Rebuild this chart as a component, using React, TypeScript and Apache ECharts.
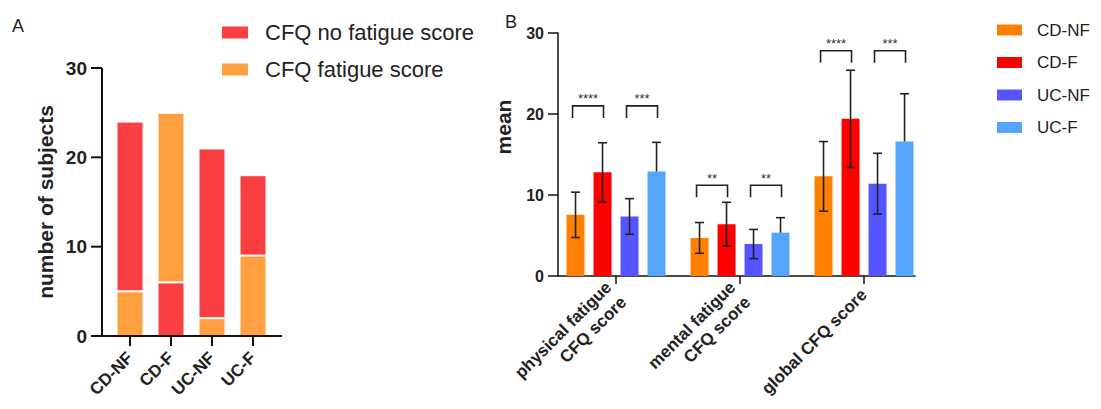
import React, { useEffect, useRef } from 'react';
import * as echarts from 'echarts';

// ---------- Panel A data ----------
const groupsA = ['CD-NF', 'CD-F', 'UC-NF', 'UC-F'];
const fatigueScore = [5, 19, 2, 9];
const noFatigueScore = [19, 6, 19, 9];
const fatigueAtBottom = [true, false, true, true];
const seriesNamesA = ['CFQ no fatigue score', 'CFQ fatigue score'];
const yTicksA = [0, 10, 20, 30];

// ---------- Panel B data ----------
const categoriesB = ['physical fatigue\nCFQ score', 'mental fatigue\nCFQ score', 'global CFQ score'];
const groupsB = ['CD-NF', 'CD-F', 'UC-NF', 'UC-F'];
const meanCDNF = [7.55, 4.7, 12.3];
const sdCDNF = [2.8, 1.9, 4.3];
const meanCDF = [12.8, 6.4, 19.4];
const sdCDF = [3.65, 2.7, 6.0];
const meanUCNF = [7.35, 3.95, 11.4];
const sdUCNF = [2.2, 1.8, 3.75];
const meanUCF = [12.9, 5.35, 16.6];
const sdUCF = [3.6, 1.85, 5.9];
const errorBelow = [true, true, true, false];
const sigHeight = [21, 11.2, 27.8];
const sigPairs = [[0, 1], [2, 3]];
const sigStars = [['****', '***'], ['**', '**'], ['****', '***']];

// ---------- styles ----------
const FONT = '"Liberation Sans", Arial, Helvetica, sans-serif';
const TEXT = '#222';
const AXIS = '#111';
const RED_A = '#F93F42';
const ORANGE_A = '#FF9F3F';
const COLORS_B = ['#FF8000', '#FF0000', '#5555FF', '#55A5FF'];
const BAR_W_B = 18;
const GAP_B = 9;
const CAP = 4.5;
const LEG = 12;
// axis-line overhang beyond the outer category centres (in category-band units)
const X_RANGE_A = [-0.683, 3.707];
const X_RANGE_B = [-0.468, 2.411];

const offsetB = (i: number) => (i - 1.5) * (BAR_W_B + GAP_B);

const meansB = [meanCDNF, meanCDF, meanUCNF, meanUCF];
const sdsB = [sdCDNF, sdCDF, sdUCNF, sdUCF];

function buildOption(): any {
  const idxB = categoriesB.map((_, i) => i);

  const barA = (name: string, color: string, values: (number | string)[]) => ({
    type: 'bar',
    name,
    xAxisIndex: 0,
    yAxisIndex: 0,
    stack: 'A',
    barWidth: 27,
    data: values,
    itemStyle: { color, borderColor: '#fff', borderWidth: 1 },
  });

  const seriesA = [
    barA(seriesNamesA[1], ORANGE_A, fatigueScore.map((v, i) => (fatigueAtBottom[i] ? v : '-'))),
    barA(seriesNamesA[0], RED_A, noFatigueScore.map((v, i) => (fatigueAtBottom[i] ? '-' : v))),
    barA(seriesNamesA[0], RED_A, noFatigueScore.map((v, i) => (fatigueAtBottom[i] ? v : '-'))),
    barA(seriesNamesA[1], ORANGE_A, fatigueScore.map((v, i) => (fatigueAtBottom[i] ? '-' : v))),
  ];

  // Panel A axis frame (lines + ticks), drawn from the grid's own scales
  const frameA = {
    type: 'custom',
    xAxisIndex: 0,
    yAxisIndex: 0,
    z: 9,
    silent: true,
    data: [[0, 0]],
    renderItem: (params: any, api: any) => {
      const p0 = api.coord([0, 0]);
      const p1 = api.coord([1, 0]);
      const band = p1[0] - p0[0];
      const xl = p0[0] + X_RANGE_A[0] * band;
      const xr = p0[0] + X_RANGE_A[1] * band;
      const yTop = api.coord([0, yTicksA[yTicksA.length - 1]])[1];
      const yBot = p0[1];
      const st = { stroke: AXIS, lineWidth: 2 };
      const children: any[] = [
        { type: 'line', shape: { x1: xl, y1: yTop, x2: xl, y2: yBot }, style: st },
        { type: 'line', shape: { x1: xl - 11, y1: yBot, x2: xr, y2: yBot }, style: st },
      ];
      yTicksA.forEach((t) => {
        const y = api.coord([0, t])[1];
        children.push({ type: 'line', shape: { x1: xl - 11, y1: y, x2: xl, y2: y }, style: st });
      });
      groupsA.forEach((_, i) => {
        const x = api.coord([i, 0])[0];
        children.push({ type: 'line', shape: { x1: x, y1: yBot, x2: x, y2: yBot + 10 }, style: st });
      });
      return { type: 'group', children };
    },
  };

  const seriesBBars = groupsB.map((g, i) => ({
    type: 'bar',
    name: g,
    xAxisIndex: 1,
    yAxisIndex: 1,
    barWidth: BAR_W_B,
    barGap: '50%',
    data: meansB[i].map((m, c) => [c, m]),
    itemStyle: { color: COLORS_B[i] },
  }));

  const seriesBErr = groupsB.map((g, i) => ({
    type: 'custom',
    xAxisIndex: 1,
    yAxisIndex: 1,
    z: 10,
    encode: { x: 0, y: 1 },
    data: categoriesB.map((_, c) => [c, meansB[i][c], sdsB[i][c], errorBelow[i] ? 1 : 0]),
    renderItem: (params: any, api: any) => {
      const c = api.value(0);
      const m = api.value(1);
      const s = api.value(2);
      const below = api.value(3);
      const pTop = api.coord([c, m + s]);
      const pBot = api.coord([c, below ? m - s : m]);
      const x = pTop[0] + offsetB(i);
      const st = { stroke: '#222', lineWidth: 1.6 };
      const children: any[] = [
        { type: 'line', shape: { x1: x, y1: pTop[1], x2: x, y2: pBot[1] }, style: st },
        { type: 'line', shape: { x1: x - CAP, y1: pTop[1], x2: x + CAP, y2: pTop[1] }, style: st },
      ];
      if (below) {
        children.push({ type: 'line', shape: { x1: x - CAP, y1: pBot[1], x2: x + CAP, y2: pBot[1] }, style: st });
      }
      return { type: 'group', children };
    },
  }));

  const sigData: number[][] = [];
  const sigText: string[] = [];
  categoriesB.forEach((_, c) => {
    sigPairs.forEach((p, k) => {
      sigData.push([c, p[0], p[1], sigHeight[c]]);
      sigText.push(sigStars[c][k]);
    });
  });

  const seriesSig = {
    type: 'custom',
    xAxisIndex: 1,
    yAxisIndex: 1,
    z: 10,
    encode: { x: 0, y: 3 },
    data: sigData,
    renderItem: (params: any, api: any) => {
      const c = api.value(0);
      const a = api.value(1);
      const b = api.value(2);
      const h = api.value(3);
      const p = api.coord([c, h]);
      const xl = p[0] + offsetB(a) - 3;
      const xr = p[0] + offsetB(b) + 1;
      const y = p[1];
      return {
        type: 'group',
        children: [
          {
            type: 'polyline',
            shape: { points: [[xl, y + LEG], [xl, y], [xr, y], [xr, y + LEG]] },
            style: { stroke: '#222', lineWidth: 1.6, fill: 'none' },
          },
          {
            type: 'text',
            style: {
              text: sigText[params.dataIndex],
              x: (xl + xr) / 2,
              y: y - 7,
              align: 'center',
              verticalAlign: 'middle',
              fill: '#333',
              font: `13px ${FONT}`,
            },
          },
        ],
      };
    },
  };

  const boldText = (size: number) => ({
    fontFamily: FONT,
    fontWeight: 'bold',
    fontSize: size,
    color: TEXT,
  });

  return {
    animation: false,
    textStyle: { fontFamily: FONT },
    grid: [
      { left: 109.5, top: 68, width: 164, height: 268 },
      { left: 558, top: 33, width: 357, height: 243 },
    ],
    xAxis: [
      {
        gridIndex: 0, type: 'category', data: groupsA,
        axisLine: { show: false },
        axisTick: { show: false },
        axisLabel: { rotate: 45, margin: 19, ...boldText(17) },
      },
      {
        gridIndex: 1, type: 'value', min: X_RANGE_B[0], max: X_RANGE_B[1],
        splitLine: { show: false },
        axisLine: { show: true, onZero: false, lineStyle: { color: AXIS, width: 1.5 } },
        axisTick: { show: true, customValues: idxB, length: 8, lineStyle: { color: AXIS, width: 1.5 } },
        axisLabel: {
          customValues: idxB, rotate: 45, margin: 16, lineHeight: 21, ...boldText(17),
          formatter: (v: number) => categoriesB[Math.round(v)] ?? '',
        },
      },
    ],
    yAxis: [
      {
        gridIndex: 0, type: 'value', min: 0, max: 30, interval: 10, offset: 7.5,
        axisLine: { show: false },
        axisTick: { show: false },
        axisLabel: { margin: 15, ...boldText(19) },
        splitLine: { show: false },
        name: 'number of subjects',
        nameLocation: 'middle',
        nameGap: 46,
        nameTextStyle: { ...boldText(21) },
      },
      {
        gridIndex: 1, type: 'value', min: 0, max: 30, interval: 10,
        axisLine: { show: true, onZero: false, lineStyle: { color: AXIS, width: 1.5 } },
        axisTick: { show: true, length: 10, lineStyle: { color: AXIS, width: 1.5 } },
        axisLabel: { margin: 14, ...boldText(16) },
        splitLine: { show: false },
        name: 'mean',
        nameLocation: 'middle',
        nameGap: 44,
        nameTextStyle: { ...boldText(21), padding: [0, 0, 0, 55] },
      },
    ],
    legend: [
      {
        data: seriesNamesA,
        orient: 'vertical',
        left: 222,
        top: 21.5,
        padding: 0,
        itemWidth: 26,
        itemHeight: 12,
        itemGap: 15,
        icon: 'rect',
        itemStyle: { borderWidth: 0 },
        textStyle: { fontFamily: FONT, fontSize: 22, lineHeight: 22, color: TEXT, padding: [0, 0, 0, 12] },
      },
      {
        data: groupsB,
        orient: 'vertical',
        left: 997,
        top: 21.5,
        padding: 0,
        itemWidth: 25,
        itemHeight: 11,
        itemGap: 15.5,
        icon: 'rect',
        itemStyle: { borderWidth: 0 },
        textStyle: { fontFamily: FONT, fontSize: 17, lineHeight: 17, color: TEXT, padding: [0, 0, 0, 10] },
      },
    ],
    graphic: [
      { type: 'text', x: 12, y: 25.5, style: { text: 'A', font: `18px ${FONT}`, fill: TEXT, verticalAlign: 'middle' } },
      { type: 'text', x: 505, y: 21.5, style: { text: 'B', font: `18px ${FONT}`, fill: TEXT, verticalAlign: 'middle' } },
    ],
    series: [...seriesA, frameA, ...seriesBBars, ...seriesBErr, seriesSig],
  };
}

export default function App() {
  const ref = useRef<HTMLDivElement>(null);
  useEffect(() => {
    if (!ref.current) return;
    const chart = echarts.init(ref.current, null, { renderer: 'svg' });
    chart.setOption(buildOption());
    return () => chart.dispose();
  }, []);
  return (
    <div
      ref={ref}
      style={{ position: 'fixed', left: 0, top: 0, width: 1101, height: 409, background: '#fff' }}
    />
  );
}
